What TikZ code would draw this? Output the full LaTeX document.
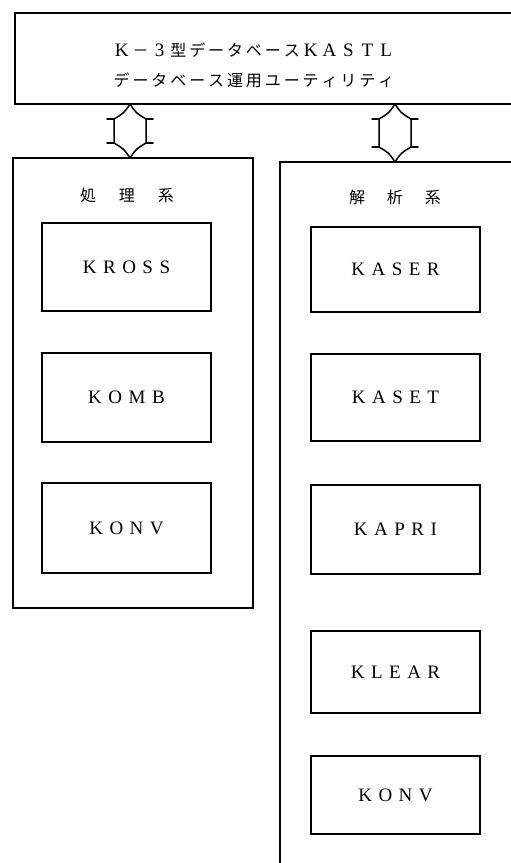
\documentclass[tikz,border=0pt]{standalone}
\usepackage{fontspec}
\newfontfamily\jp{Noto Sans CJK JP}
\newfontfamily\lat{Liberation Serif}
\usetikzlibrary{calc}
\newlength\cw
\newlength\tk
\def\endspread{\endspread}
\newcommand\jpf{\jp\fontsize{16}{18}\selectfont}
\newcommand\latf{\lat\fontsize{19}{21}\selectfont}
\def\spreadloop#1{\ifx#1\endspread\else\makebox[\cw]{\curfont#1}\expandafter\spreadloop\fi}
\newcommand\spreadJ[1]{\let\curfont\jpf\spreadloop#1\endspread}
\newcommand\spreadL[1]{\let\curfont\latf\spreadloop#1\endspread}
\def\trackloop#1{\ifx#1\endspread\else#1\kern\tk\relax\expandafter\trackloop\fi}
\newcommand\track[1]{\setlength\tk{6.5pt}\trackloop#1\endspread\kern-\tk\relax}
\newcommand\dblarrow[2]{%
  \draw[arr] (#1) .. controls ($(#1)+(-6,9)$) .. ($(#1)+(-16,15)$)
    -- ($(#2)+(-16,-15)$) .. controls ($(#2)+(-6,-9)$) .. (#2)
    .. controls ($(#2)+(6,-9)$) .. ($(#2)+(16,-15)$)
    -- ($(#1)+(16,15)$) .. controls ($(#1)+(6,9)$) .. (#1);
  \draw[arr] ($(#1)+(-16,15)$) -- ++(-7,0);
  \draw[arr] ($(#1)+(16,15)$) -- ++(7,0);
  \draw[arr] ($(#2)+(-16,-15)$) -- ++(-7,0);
  \draw[arr] ($(#2)+(16,-15)$) -- ++(7,0);
}
\begin{document}
\begin{tikzpicture}[x=1pt,y=-1pt,
  box/.style={draw, line width=1.6pt, inner sep=0pt, outer sep=0pt},
  inbox/.style={draw, line width=1.5pt, minimum width=169pt, inner sep=0pt, outer sep=0pt, font=\latf},
  arr/.style={line width=1.5pt, line join=round, line cap=round}]
\clip (0,0) rectangle (511,863);
\fill[white] (0,0) rectangle (511,863);
% top box
\node[box, line width=2pt, anchor=north west, minimum width=530pt, minimum height=91pt] (top) at (15,13) {};
\node[inner sep=0pt] (t1) at (254,50) {\setlength\cw{18.9pt}\spreadL{K}\spreadJ{－}\spreadL{3}\spreadJ{型データベース}\spreadL{KASTL}};
\node[inner sep=0pt] (t2) at (254,80) {\setlength\cw{18.9pt}\spreadJ{データベース運用ユーティリティ}};
% group boxes
\node[box, anchor=north west, minimum width=240pt, minimum height=450pt] (proc) at (13,158) {};
\node[box, anchor=north west, minimum width=260pt, minimum height=720pt] (anal) at (280,162) {};
\node[inner sep=0pt] (proct) at (127,195) {\setlength\cw{39pt}\spreadJ{処理系}};
\node[inner sep=0pt] (analt) at (395,197) {\setlength\cw{38pt}\spreadJ{解析系}};
% left inner boxes
\node[inbox, minimum height=88pt] (kross) at (126.5,267) {\track{KROSS}};
\node[inbox, minimum height=89pt] (komb) at (126.5,397.5) {\track{KOMB}};
\node[inbox, minimum height=90pt] (konvl) at (126.5,528) {\track{KONV}};
% right inner boxes
\node[inbox, minimum height=85pt] (kaser) at (395.5,269.5) {\track{KASER}};
\node[inbox, minimum height=87pt] (kaset) at (395.5,397.5) {\track{KASET}};
\node[inbox, minimum height=89pt] (kapri) at (395.5,529.5) {\track{KAPRI}};
\node[inbox, minimum height=82pt] (klear) at (395.5,672) {\track{KLEAR}};
\node[inbox, minimum height=78pt] (konvr) at (395.5,795) {\track{KONV}};
% arrows
\coordinate (la) at (130,0);
\coordinate (ra) at (395,0);
\coordinate (la1) at (top.south -| la);
\coordinate (la2) at (proc.north -| la);
\coordinate (ra1) at (top.south -| ra);
\coordinate (ra2) at (anal.north -| ra);
\dblarrow{la1}{la2}
\dblarrow{ra1}{ra2}
\end{tikzpicture}
\end{document}
